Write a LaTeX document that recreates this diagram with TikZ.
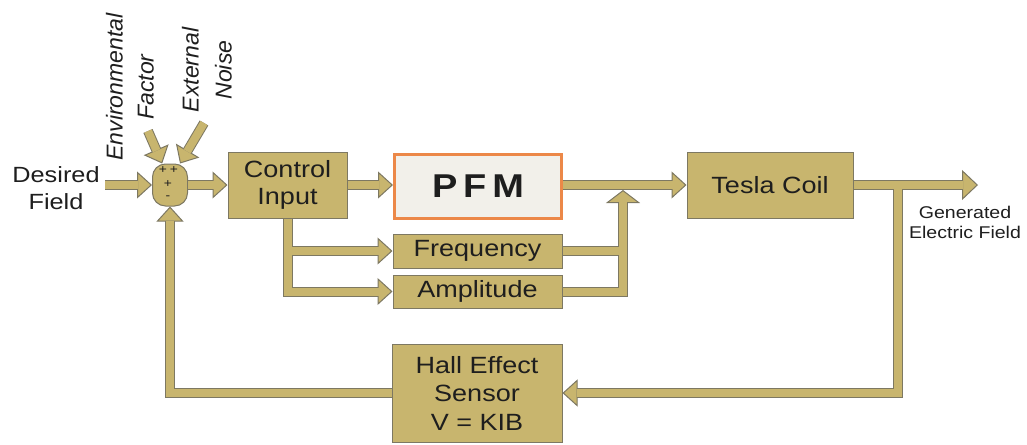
\documentclass[tikz,border=0pt]{standalone}
\usepackage{fontspec}
\setmainfont{Liberation Sans}[FakeStretch=1.15]
\newfontfamily\rotfont{Liberation Sans}
\usetikzlibrary{arrows.meta}
\definecolor{khaki}{RGB}{200,181,110}
\definecolor{edgec}{RGB}{125,120,98}
\definecolor{pfmfill}{RGB}{242,240,234}
\definecolor{pfmedge}{RGB}{236,136,72}
\definecolor{textc}{RGB}{30,30,30}
\newcommand\boxfont{\fontsize{23.5}{27}\selectfont}
\newcommand\pfmfont{\fontsize{33}{36}\selectfont\bfseries\addfontfeature{LetterSpace=18}}
\begin{document}
\begin{tikzpicture}[x=1pt,y=-1pt,
  box/.style={draw=edgec,line width=1pt,fill=khaki,text=textc,inner sep=0pt,align=center,font=\boxfont},
  bo/.style={line width=10pt,draw=edgec,-{Triangle[width=27pt,length=15pt,fill=khaki,line width=1pt]}},
  bon/.style={line width=10pt,draw=edgec},
  bi/.style={line width=8pt,draw=khaki,shorten >=14pt},
  bin/.style={line width=8pt,draw=khaki},
  lbl/.style={text=textc,align=center,inner sep=0pt},
  sgn/.style={text=textc,inner sep=0pt,font=\fontsize{12}{12}\selectfont},
]
\useasboundingbox (0,0) rectangle (1027,444);

% nodes
\node[box,minimum width=35pt,minimum height=42pt,rounded corners=13pt] (sum) at (170,185) {};
\node[box,minimum width=119pt,minimum height=66pt] (ci) at (287.5,185) {Control\\Input};
\node[box,draw=pfmedge,line width=3pt,fill=pfmfill,minimum width=167pt,minimum height=64pt,font=\pfmfont] (pfm) at (478,186) {PFM};
\node[box,minimum width=169pt,minimum height=34pt] (freq) at (477.5,251) {Frequency};
\node[box,minimum width=169pt,minimum height=33pt] (amp) at (477.5,291.5) {Amplitude};
\node[box,minimum width=166pt,minimum height=66pt] (tesla) at (770,185) {Tesla Coil};
\node[box,minimum width=170pt,minimum height=98pt,font=\fontsize{23.5}{28.5}\selectfont] (hall) at (477,393) {Hall Effect\\Sensor\\V = KIB};

\node[lbl,font=\fontsize{22}{27}\selectfont] (df) at (56,188) {Desired\\Field};
\node[lbl,rotate=90,font=\rotfont\itshape\fontsize{23}{31}\selectfont] (env) at (130,87) {Environmental\\Factor};
\node[lbl,rotate=90,font=\rotfont\itshape\fontsize{23}{33}\selectfont] (ext) at (207,70) {External\\Noise};
\node[lbl,font=\fontsize{17}{20}\selectfont] (gen) at (965,222) {Generated\\Electric Field};

\node[sgn] (pp) at (168.5,170) {+\hspace{3pt}+};
\node[sgn] (pl) at (168,184) {+};
\node[sgn] (mi) at (168,198) {-};

% coordinates
\coordinate (dstart) at (105,185);
\coordinate (envS) at (148,131);
\coordinate (extS) at (204,123);
\coordinate (out) at (978,185);
\coordinate (drop) at (897.5,185);
\coordinate (up) at (623,190);

% outer passes
\draw[bo] (dstart) -- (sum.west);
\draw[bo] (envS) -- (sum.110);
\draw[bo] (extS) -- (sum.65);
\draw[bo] (sum.east) -- (ci.west);
\draw[bo] (ci.east) -- (ci.east -| pfm.west);
\draw[bo] (ci.south) -- (ci.south |- amp.west) -- (amp.west);
\draw[bo] (ci.south |- freq.west) -- (freq.west);
\draw[bon] (freq.east) -- (freq.east -| up);
\draw[line width=10pt,draw=edgec,-{Triangle[width=34pt,length=13pt,fill=khaki,line width=1pt]}] (amp.east) -- (amp.east -| up) -- (up);
\draw[bo] (pfm.east |- tesla.west) -- (tesla.west);
\draw[line width=10pt,draw=edgec,-{Triangle[width=30pt,length=16pt,fill=khaki,line width=1pt]}] (tesla.east) -- (out);
\draw[bo] (drop) -- (drop |- hall.east) -- (hall.east);
\draw[bo] (hall.west) -- (hall.west -| sum.south) -- (sum.south);

% inner passes
\draw[bi] (dstart) -- (sum.west);
\draw[bi] (envS) -- (sum.110);
\draw[bi] (extS) -- (sum.65);
\draw[bi] (sum.east) -- (ci.west);
\draw[bi] (ci.east) -- (ci.east -| pfm.west);
\draw[bi] (ci.south) -- (ci.south |- amp.west) -- (amp.west);
\draw[bi] (ci.south |- freq.west) -- (freq.west);
\draw[bin] (freq.east) -- (freq.east -| up);
\draw[bi,shorten >=12pt] (amp.east) -- (amp.east -| up) -- (up);
\draw[bi] (pfm.east |- tesla.west) -- (tesla.west);
\draw[bi,shorten >=15pt] (tesla.east) -- (out);
\draw[bi] (drop) -- (drop |- hall.east) -- (hall.east);
\draw[bi] (hall.west) -- (hall.west -| sum.south) -- (sum.south);
\end{tikzpicture}
\end{document}
